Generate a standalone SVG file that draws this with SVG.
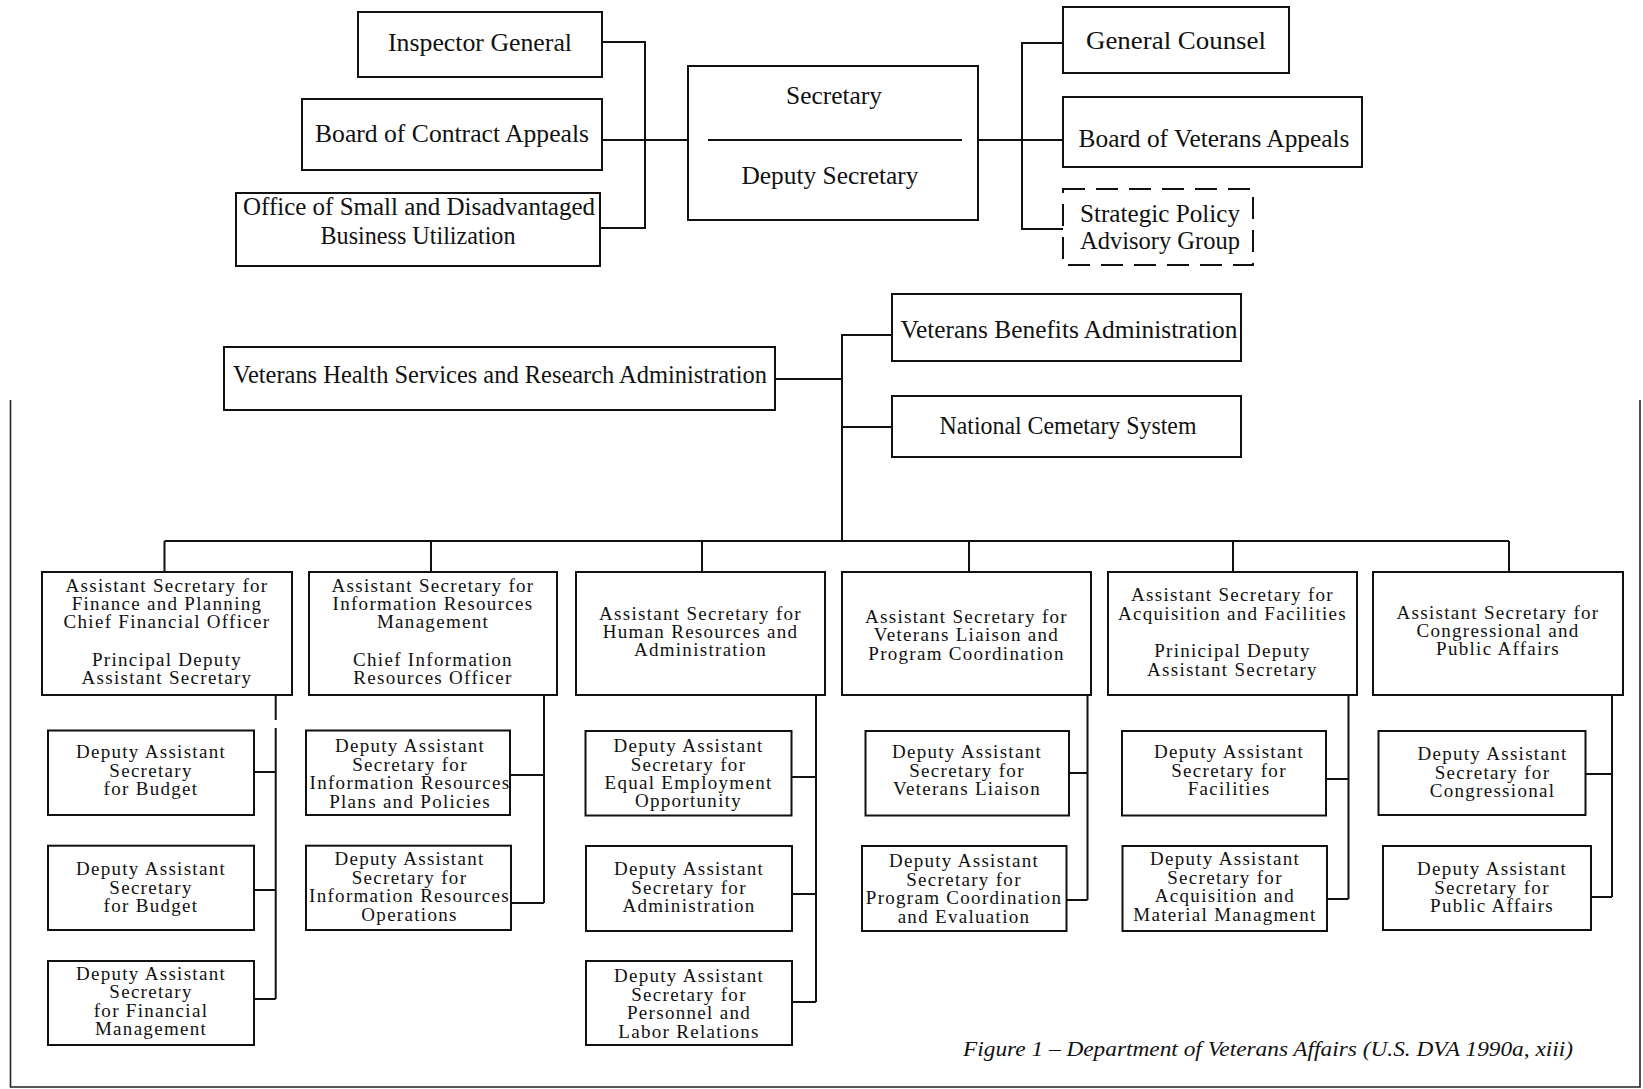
<svg xmlns="http://www.w3.org/2000/svg" width="1643" height="1089" viewBox="0 0 1643 1089">
<style>
.box{fill:#fff;stroke:#111;stroke-width:2}
.dash{stroke-dasharray:22 11}
.conn{fill:none;stroke:#111;stroke-width:2}
.frame{fill:none;stroke:#222;stroke-width:1.6}
text{font-family:"Liberation Serif","Times New Roman",serif;fill:#111;text-anchor:middle}
.t26{font-size:26px}
.t25{font-size:25px}
.t22{font-size:19px;letter-spacing:1.3px}
.cap{font-size:22px;font-style:italic}
</style>
<rect x="0" y="0" width="1643" height="1089" fill="#fff"/>
<g id="frame">
<path class="frame" d="M10.5,400 V1087 H1640 V400"/>
</g>
<g id="connectors">
<path class="conn" d="M602,42 H645 V228 H600"/>
<path class="conn" d="M602,140 H688"/>
<path class="conn" d="M978,140 H1063"/>
<path class="conn" d="M1063,43 H1022 V229 H1063"/>
<path class="conn" d="M775,379 H842"/>
<path class="conn" d="M892,335 H842 V541"/>
<path class="conn" d="M842,427 H892"/>
<path class="conn" d="M164.5,541 H1509"/>
<path class="conn" d="M164.5,541 V572 M431,541 V572 M702,541 V572 M969,541 V572 M1233,541 V572 M1509,541 V572"/>
<path class="conn" d="M275.7,695 V720 M275.7,728 V999 M254,772 H275.7 M254,890 H275.7 M254,999 H275.7"/>
<path class="conn" d="M544,695 V903 M510,775 H544 M511,903 H544"/>
<path class="conn" d="M816,695 V1002 M791.5,777 H816 M792,894 H816 M792,1002 H816"/>
<path class="conn" d="M1087.5,695 V900 M1069,773 H1087.5 M1066.5,900 H1087.5"/>
<path class="conn" d="M1348.5,695 V899 M1326,779 H1348.5 M1327,899 H1348.5"/>
<path class="conn" d="M1612,695 V897 M1585.5,774 H1612 M1591,897 H1612"/>
</g>
<g id="inspector-general">
<rect class="box" x="358" y="12" width="244" height="65"/>
<text class="t26" x="480" y="51" textLength="184" lengthAdjust="spacingAndGlyphs">Inspector General</text>
</g>
<g id="board-contract-appeals">
<rect class="box" x="302" y="99" width="300" height="71"/>
<text class="t26" x="452" y="142" textLength="274" lengthAdjust="spacingAndGlyphs">Board of Contract Appeals</text>
</g>
<g id="office-small-business">
<rect class="box" x="236" y="193" width="364" height="73"/>
<text class="t26" x="419" y="215" textLength="352" lengthAdjust="spacingAndGlyphs">Office of Small and Disadvantaged</text>
<text class="t26" x="418" y="244" textLength="195" lengthAdjust="spacingAndGlyphs">Business Utilization</text>
</g>
<g id="secretary">
<rect class="box" x="688" y="66" width="290" height="154"/>
<line x1="708" y1="140" x2="962" y2="140" stroke="#111" stroke-width="2"/>
<text class="t26" x="834" y="104" textLength="96" lengthAdjust="spacingAndGlyphs">Secretary</text>
<text class="t26" x="830" y="184" textLength="177" lengthAdjust="spacingAndGlyphs">Deputy Secretary</text>
</g>
<g id="general-counsel">
<rect class="box" x="1063" y="7" width="226" height="66"/>
<text class="t26" x="1176" y="49" textLength="180" lengthAdjust="spacingAndGlyphs">General Counsel</text>
</g>
<g id="board-veterans-appeals">
<rect class="box" x="1063" y="97" width="299" height="70"/>
<text class="t26" x="1214" y="147" textLength="271" lengthAdjust="spacingAndGlyphs">Board of Veterans Appeals</text>
</g>
<g id="strategic-policy">
<rect class="box dash" x="1063" y="189" width="190" height="76"/>
<text class="t26" x="1160" y="222" textLength="160" lengthAdjust="spacingAndGlyphs">Strategic Policy</text>
<text class="t26" x="1160" y="249" textLength="160" lengthAdjust="spacingAndGlyphs">Advisory Group</text>
</g>
<g id="vhsra">
<rect class="box" x="224" y="347" width="551" height="63"/>
<text class="t25" x="500" y="383" textLength="534" lengthAdjust="spacingAndGlyphs">Veterans Health Services and Research Administration</text>
</g>
<g id="vba">
<rect class="box" x="892" y="294" width="349" height="67"/>
<text class="t25" x="1069" y="338" textLength="337" lengthAdjust="spacingAndGlyphs">Veterans Benefits Administration</text>
</g>
<g id="ncs">
<rect class="box" x="892" y="396" width="349" height="61"/>
<text class="t25" x="1068" y="434" textLength="257" lengthAdjust="spacingAndGlyphs">National Cemetary System</text>
</g>
<g id="as-finance">
<rect class="box" x="42" y="572" width="250" height="123"/>
<text class="t22" x="167" y="592">Assistant Secretary for</text>
<text class="t22" x="167" y="610">Finance and Planning</text>
<text class="t22" x="167" y="628">Chief Financial Officer</text>
<text class="t22" x="167" y="666">Principal Deputy</text>
<text class="t22" x="167" y="684">Assistant Secretary</text>
</g>
<g id="as-information">
<rect class="box" x="309" y="572" width="248" height="123"/>
<text class="t22" x="433" y="592">Assistant Secretary for</text>
<text class="t22" x="433" y="610">Information Resources</text>
<text class="t22" x="433" y="628">Management</text>
<text class="t22" x="433" y="666">Chief Information</text>
<text class="t22" x="433" y="684">Resources Officer</text>
</g>
<g id="as-human-resources">
<rect class="box" x="576" y="572" width="249" height="123"/>
<text class="t22" x="700.5" y="620">Assistant Secretary for</text>
<text class="t22" x="700.5" y="638">Human Resources and</text>
<text class="t22" x="700.5" y="656">Administration</text>
</g>
<g id="as-veterans-liaison">
<rect class="box" x="842" y="572" width="249" height="123"/>
<text class="t22" x="966.5" y="623">Assistant Secretary for</text>
<text class="t22" x="966.5" y="641">Veterans Liaison and</text>
<text class="t22" x="966.5" y="660">Program Coordination</text>
</g>
<g id="as-acquisition">
<rect class="box" x="1108" y="572" width="249" height="123"/>
<text class="t22" x="1232.5" y="601">Assistant Secretary for</text>
<text class="t22" x="1232.5" y="620">Acquisition and Facilities</text>
<text class="t22" x="1232.5" y="657">Prinicipal Deputy</text>
<text class="t22" x="1232.5" y="676">Assistant Secretary</text>
</g>
<g id="as-congressional">
<rect class="box" x="1373" y="572" width="250" height="123"/>
<text class="t22" x="1498" y="619">Assistant Secretary for</text>
<text class="t22" x="1498" y="637">Congressional and</text>
<text class="t22" x="1498" y="655">Public Affairs</text>
</g>
<g id="das-budget-1">
<rect class="box" x="48" y="730.5" width="206" height="84.5"/>
<text class="t22" x="151" y="758">Deputy Assistant</text>
<text class="t22" x="151" y="776.5">Secretary</text>
<text class="t22" x="151" y="795">for Budget</text>
</g>
<g id="das-budget-2">
<rect class="box" x="48" y="845.7" width="206" height="84.3"/>
<text class="t22" x="151" y="875">Deputy Assistant</text>
<text class="t22" x="151" y="893.5">Secretary</text>
<text class="t22" x="151" y="912">for Budget</text>
</g>
<g id="das-financial-management">
<rect class="box" x="48" y="961" width="206" height="84"/>
<text class="t22" x="151" y="980">Deputy Assistant</text>
<text class="t22" x="151" y="998">Secretary</text>
<text class="t22" x="151" y="1016.5">for Financial</text>
<text class="t22" x="151" y="1035">Management</text>
</g>
<g id="das-ir-plans">
<rect class="box" x="306" y="730.5" width="204" height="84.5"/>
<text class="t22" x="410" y="752">Deputy Assistant</text>
<text class="t22" x="410" y="770.5">Secretary for</text>
<text class="t22" x="410" y="789">Information Resources</text>
<text class="t22" x="410" y="807.5">Plans and Policies</text>
</g>
<g id="das-ir-operations">
<rect class="box" x="306" y="845.7" width="205" height="84.3"/>
<text class="t22" x="409.5" y="865">Deputy Assistant</text>
<text class="t22" x="409.5" y="883.5">Secretary for</text>
<text class="t22" x="409.5" y="902">Information Resources</text>
<text class="t22" x="409.5" y="920.5">Operations</text>
</g>
<g id="das-eeo">
<rect class="box" x="585.5" y="731" width="206" height="84.5"/>
<text class="t22" x="688.5" y="752">Deputy Assistant</text>
<text class="t22" x="688.5" y="770.5">Secretary for</text>
<text class="t22" x="688.5" y="789">Equal Employment</text>
<text class="t22" x="688.5" y="807">Opportunity</text>
</g>
<g id="das-administration">
<rect class="box" x="586" y="846" width="206" height="85"/>
<text class="t22" x="689" y="875">Deputy Assistant</text>
<text class="t22" x="689" y="893.5">Secretary for</text>
<text class="t22" x="689" y="912">Administration</text>
</g>
<g id="das-personnel">
<rect class="box" x="586" y="961" width="206" height="84"/>
<text class="t22" x="689" y="982">Deputy Assistant</text>
<text class="t22" x="689" y="1000.5">Secretary for</text>
<text class="t22" x="689" y="1019">Personnel and</text>
<text class="t22" x="689" y="1037.5">Labor Relations</text>
</g>
<g id="das-veterans-liaison">
<rect class="box" x="865.5" y="731" width="203.5" height="84.5"/>
<text class="t22" x="967" y="758">Deputy Assistant</text>
<text class="t22" x="967" y="776.5">Secretary for</text>
<text class="t22" x="967" y="795">Veterans Liaison</text>
</g>
<g id="das-program-coordination">
<rect class="box" x="862" y="846" width="204.5" height="85"/>
<text class="t22" x="964" y="867">Deputy Assistant</text>
<text class="t22" x="964" y="885.5">Secretary for</text>
<text class="t22" x="964" y="904">Program Coordination</text>
<text class="t22" x="964" y="922.5">and Evaluation</text>
</g>
<g id="das-facilities">
<rect class="box" x="1122" y="731" width="204" height="84.5"/>
<text class="t22" x="1229" y="758">Deputy Assistant</text>
<text class="t22" x="1229" y="776.5">Secretary for</text>
<text class="t22" x="1229" y="795">Facilities</text>
</g>
<g id="das-acquisition">
<rect class="box" x="1122.5" y="846" width="204.5" height="85"/>
<text class="t22" x="1225" y="865">Deputy Assistant</text>
<text class="t22" x="1225" y="883.5">Secretary for</text>
<text class="t22" x="1225" y="902">Acquisition and</text>
<text class="t22" x="1225" y="920.5">Material Managment</text>
</g>
<g id="das-congressional">
<rect class="box" x="1378.5" y="731" width="207" height="84"/>
<text class="t22" x="1492.5" y="760">Deputy Assistant</text>
<text class="t22" x="1492.5" y="778.5">Secretary for</text>
<text class="t22" x="1492.5" y="797">Congressional</text>
</g>
<g id="das-public-affairs">
<rect class="box" x="1383" y="846" width="208" height="84"/>
<text class="t22" x="1492" y="875">Deputy Assistant</text>
<text class="t22" x="1492" y="893.5">Secretary for</text>
<text class="t22" x="1492" y="912">Public Affairs</text>
</g>
<g id="caption">
<text class="cap" x="1268" y="1056" textLength="610" lengthAdjust="spacingAndGlyphs">Figure 1 – Department of Veterans Affairs (U.S. DVA 1990a, xiii)</text>
</g>
</svg>
